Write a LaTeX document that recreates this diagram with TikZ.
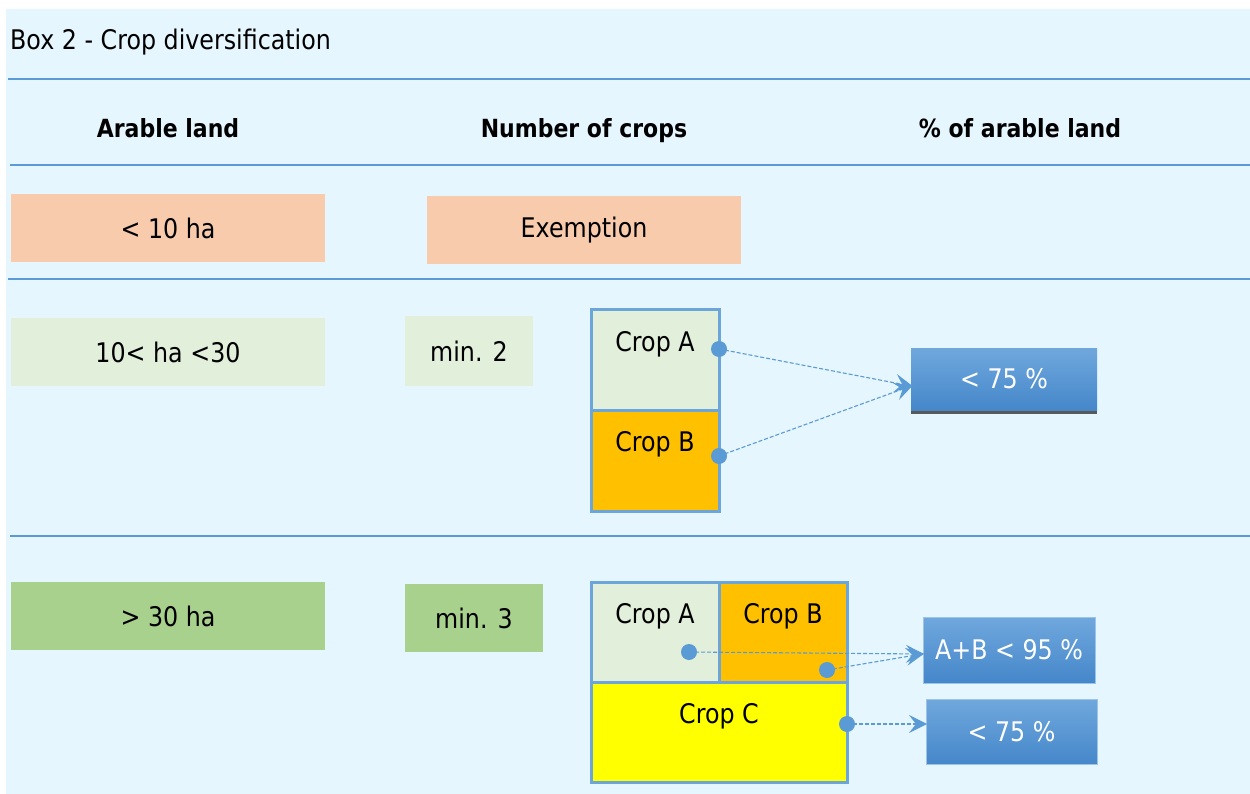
\documentclass[tikz,border=0pt]{standalone}
\usepackage{fontspec}
\setmainfont{DejaVu Sans}[FakeStretch=0.88]
\usetikzlibrary{arrows.meta}

\definecolor{bgblue}{HTML}{E5F6FE}
\definecolor{ruleblue}{HTML}{5B9BD5}
\definecolor{peach}{HTML}{F8CBAD}
\definecolor{palegreen}{HTML}{E2EFDA}
\definecolor{midgreen}{HTML}{A9D18E}
\definecolor{amber}{HTML}{FFC000}
\definecolor{brightyellow}{HTML}{FFFF00}
\definecolor{boxtop}{HTML}{70A8DD}
\definecolor{boxbottom}{HTML}{4587CA}
\definecolor{boxedge}{HTML}{9CC3E8}

\tikzset{
  txt/.style={font=\fontsize{27}{32}\selectfont, text=black},
  headtxt/.style={font=\bfseries\fontsize{25}{30}\selectfont, text=black, anchor=base, inner sep=0pt},
  rulel/.style={draw=ruleblue, line width=1.3pt},
  landbox/.style={rectangle, inner sep=0pt, minimum width=314, minimum height=68, txt},
  cell/.style={rectangle, draw=ruleblue!90!white, line width=3pt, inner sep=0pt},
  share/.style={rectangle, inner sep=0pt, top color=boxtop, bottom color=boxbottom,
    text=white, font=\fontsize{27}{32}\selectfont},
  dotc/.style={fill=ruleblue},
  flow/.style={draw=ruleblue, line width=1.1pt, dash pattern=on 4pt off 2pt,
    -{Stealth[length=18pt, width=18pt, inset=7pt, sep=-2pt]}},
}

\begin{document}
\begin{tikzpicture}[x=1pt, y=-1pt]
\useasboundingbox (0,0) rectangle (1250,794);
\fill[bgblue] (6,9) rectangle (1250,794);

% title and column heads
\node[txt, anchor=west, inner sep=0pt] (title) at (10,42) {Box 2 - Crop diversification};
\draw[rulel] (8,79) -- (1250,79);
\node[headtxt] (h1) at (168,138) {Arable land};
\node[headtxt] (h2) at (584,138) {Number of crops};
\node[headtxt] (h3) at (1020,138) {\% of arable land};
\draw[rulel] (10,165) -- (1250,165);

% row 1: small holdings
\node[landbox, fill=peach] (l1) at (168,228) {< 10 ha};
\node[landbox, fill=peach] (n1) at (584,230) {Exemption};
\draw[rulel] (8,279) -- (1250,279);

% row 2: medium holdings
\node[landbox, fill=palegreen] (l2) at (168,352) {10< ha <30};
\node[landbox, fill=palegreen, minimum width=128, minimum height=70] (n2) at (469,351) {min. 2};
\node[cell, fill=palegreen, minimum width=128, minimum height=100] (a2) at (655,360) {};
\node[cell, fill=amber, minimum width=128, minimum height=101] (b2) at (655,460.5) {};
\node[txt] (ta2) at (655,344) {Crop A};
\node[txt] (tb2) at (655,444) {Crop B};

\fill[black!65] (911,409) rectangle (1097,414);
\node[share, minimum width=186, minimum height=62] (p2) at (1004,379) {< 75 \%};

\coordinate (da2) at (719,349);
\coordinate (db2) at (719,456);
\coordinate (t2) at (911,386);
\draw[flow] (da2) -- (t2);
\draw[flow] (db2) -- (t2);
\fill[dotc] (da2) circle (8);
\fill[dotc] (db2) circle (8);

\draw[rulel] (10,536) -- (1250,536);

% row 3: large holdings
\node[landbox, fill=midgreen] (l3) at (168,616) {> 30 ha};
\node[landbox, fill=midgreen, minimum width=138] (n3) at (474,618) {min. 3};
\node[cell, fill=palegreen, minimum width=128, minimum height=100] (a3) at (655,632) {};
\node[cell, fill=amber, minimum width=128, minimum height=100] (b3) at (783,632) {};
\node[cell, fill=brightyellow, minimum width=256, minimum height=100] (c3) at (719,732) {};
\node[txt] (ta3) at (655,616) {Crop A};
\node[txt] (tb3) at (783,616) {Crop B};
\node[txt] (tc3) at (719,716) {Crop C};

\node[share, draw=boxedge, line width=0.8pt, minimum width=172, minimum height=66] (ab3) at (1009,650) {A+B < 95 \%};
\node[share, draw=boxedge, line width=0.8pt, minimum width=171, minimum height=65] (p3) at (1011.5,731.5) {< 75 \%};

\coordinate (da3) at (689,652);
\coordinate (db3) at (827,670);
\coordinate (dc3) at (847,724);
\coordinate (t3) at (922,654);
\coordinate (t4) at (925,724);
\draw[flow] (da3) -- (t3);
\draw[flow] (db3) -- (t3);
\draw[flow] (dc3) -- (t4);
\fill[dotc] (da3) circle (8);
\fill[dotc] (db3) circle (8);
\fill[dotc] (dc3) circle (8);
\end{tikzpicture}
\end{document}
